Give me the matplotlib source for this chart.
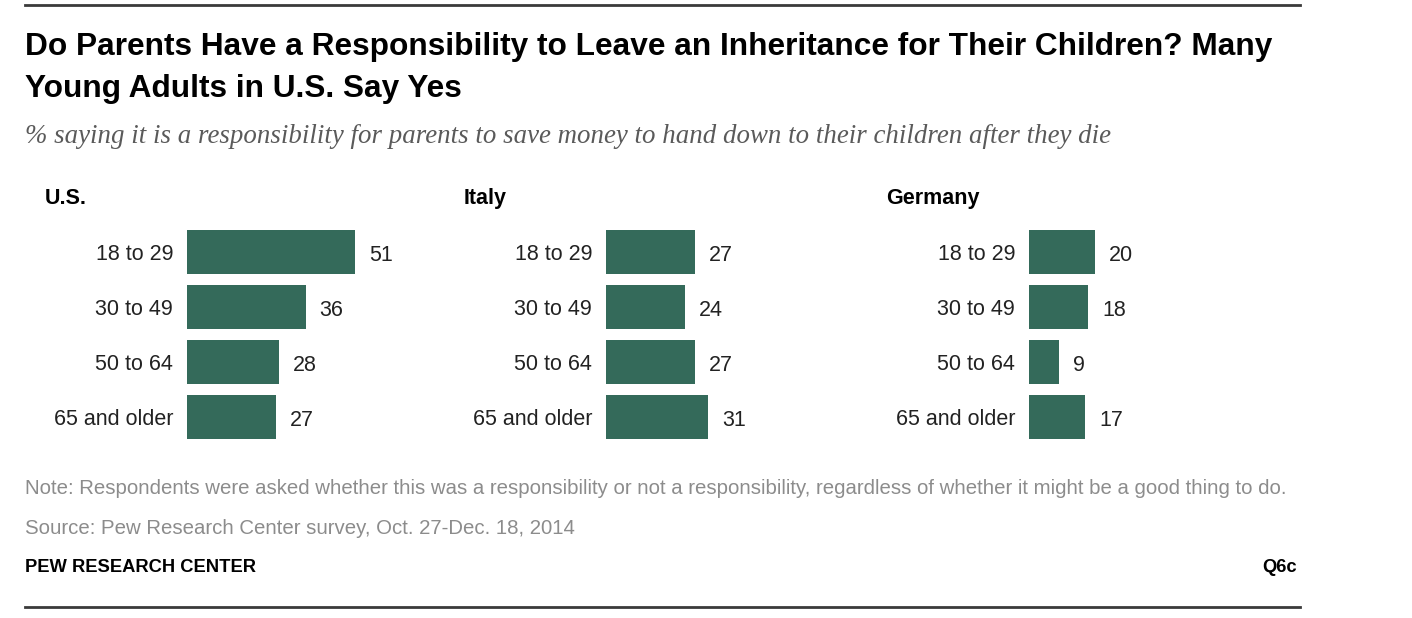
import matplotlib
matplotlib.use("Agg")
import matplotlib.pyplot as plt
from matplotlib.lines import Line2D

# ── data ─────────────────────────────────────────────────────────────────────
age_groups = ["18 to 29", "30 to 49", "50 to 64", "65 and older"]
countries = ["U.S.", "Italy", "Germany"]
us_values = [51, 36, 28, 27]
italy_values = [27, 24, 27, 31]
germany_values = [20, 18, 9, 17]

title_lines = ["Do Parents Have a Responsibility to Leave an Inheritance for Their Children? Many",
               "Young Adults in U.S. Say Yes"]
subtitle = "% saying it is a responsibility for parents to save money to hand down to their children after they die"
note = ("Note: Respondents were asked whether this was a responsibility or not a responsibility, "
        "regardless of whether it might be a good thing to do.")
source = "Source: Pew Research Center survey, Oct. 27-Dec. 18, 2014"

BAR = "#346A5A"
W, H = 1412, 618

plt.rcParams["font.family"] = ["Liberation Sans", "DejaVu Sans"]

fig = plt.figure(figsize=(W / 100, H / 100), dpi=100)
fig.patch.set_facecolor("white")
renderer = fig.canvas.get_renderer()


def fx(px):
    return px / W


def fy(py):
    return 1 - py / H


def fit(t, width_px):
    # scale fontsize so the text spans the width seen in the reference
    bb = t.get_window_extent(renderer)
    t.set_fontsize(t.get_fontsize() * width_px / bb.width)
    return t


# ── header / footer ─────────────────────────────────────────────────────────
fig.add_artist(Line2D([fx(25), fx(1300)], [fy(5), fy(5)], color="#3a3a3a", lw=2))
fig.add_artist(Line2D([fx(25), fx(1300)], [fy(607), fy(607)], color="#3a3a3a", lw=2))

t1 = fig.text(fx(25), fy(43), title_lines[0], fontsize=20, fontweight="bold",
              color="black", va="center_baseline", ha="left")
fit(t1, 1243)
fig.text(fx(25), fy(85), title_lines[1], fontsize=t1.get_fontsize(), fontweight="bold",
         color="black", va="center_baseline", ha="left")

st = fig.text(fx(25), fy(133), subtitle, fontsize=14, style="italic",
              family=["Liberation Serif", "DejaVu Serif"], color="#5a5a5a",
              va="center_baseline", ha="left")
fit(st, 1085)

nt = fig.text(fx(25), fy(486), note, fontsize=12, color="#8c8c8c",
              va="center_baseline", ha="left")
fit(nt, 1260)
sc = fig.text(fx(25), fy(526), source, fontsize=nt.get_fontsize(), color="#8c8c8c",
              va="center_baseline", ha="left")
pw = fig.text(fx(25), fy(566), "PEW RESEARCH CENTER", fontsize=12, fontweight="bold",
              color="black", va="center_baseline", ha="left")
fit(pw, 230)
fig.text(fx(1297), fy(566), "Q6c", fontsize=pw.get_fontsize(), fontweight="bold",
         color="black", va="center_baseline", ha="right")

# ── panels ──────────────────────────────────────────────────────────────────
panel_values = [us_values, italy_values, germany_values]
bar_left_px = [187, 606, 1029]
title_left_px = [45, 464, 886]
px_per_unit = 3.3
ax_width_px = 264

for name, vals, left, tleft in zip(countries, panel_values, bar_left_px, title_left_px):
    ax = fig.add_axes([fx(left), fy(444.5), fx(ax_width_px), 220 / H])
    y = range(len(age_groups))
    ax.barh(y, vals, height=0.8, color=BAR)
    ax.set_xlim(0, ax_width_px / px_per_unit)
    ax.set_ylim(len(age_groups) - 0.5, -0.5)
    ax.set_yticks(list(y))
    ax.set_yticklabels(age_groups, fontsize=15.5, color="#222222")
    ax.tick_params(axis="y", length=0, pad=10)
    ax.set_xticks([])
    for s in ax.spines.values():
        s.set_visible(False)
    ax.patch.set_alpha(0)
    for i, v in enumerate(vals):
        ax.annotate(str(v), (v, i), xytext=(10, -1), textcoords="offset points",
                    va="center_baseline", ha="left", fontsize=15.5, color="#222222")
    fig.text(fx(tleft), fy(196), name, fontsize=15.5, fontweight="bold",
             color="black", va="center_baseline", ha="left")

plt.savefig("out.png", dpi=100)
plt.close()
